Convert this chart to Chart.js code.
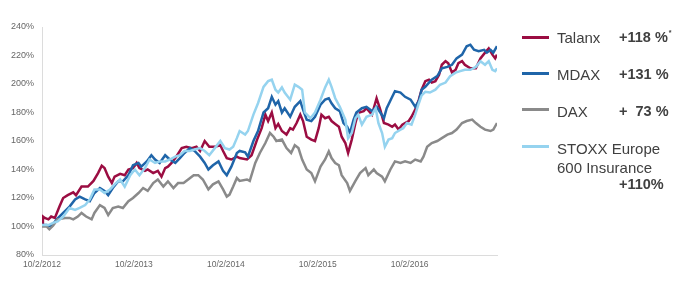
<!DOCTYPE html>
<html>
<head>
<meta charset="utf-8">
<script src="https://cdn.jsdelivr.net/npm/chart.js@4"></script>
<style>
  html, body { margin: 0; padding: 0; background: #fff; }
  #wrap { position: relative; width: 700px; height: 281px; font-family: 'Liberation Sans', Arial, sans-serif; }
  #chart { position: absolute; left: 0; top: 0; }
  .key { position: absolute; left: 522px; width: 27px; height: 3px; }
  .lbl { position: absolute; left: 557px; font-size: 15px; color: #404040; line-height: 19px; }
  .val { position: absolute; left: 619px; font-size: 14.5px; font-weight: bold; color: #404040; line-height: 19px; white-space: pre; }
  .val sup { font-size: 7px; line-height: 0; vertical-align: baseline; position: relative; top: -7px; margin-left: 1px; }
</style>
</head>
<body>
<div id="wrap">
  <canvas id="chart" width="700" height="281"></canvas>
  <div class="key" style="top:36px;background:#9b0d42"></div>
  <div class="lbl" style="top:28px">Talanx</div>
  <div class="val" style="top:28px">+118 %<sup>*</sup></div>
  <div class="key" style="top:72px;background:#1f65a9"></div>
  <div class="lbl" style="top:65px">MDAX</div>
  <div class="val" style="top:65px">+131 %</div>
  <div class="key" style="top:108px;background:#8a8a8a"></div>
  <div class="lbl" style="top:102px">DAX</div>
  <div class="val" style="top:102px">+  73 %</div>
  <div class="key" style="top:145px;background:#95d3ef"></div>
  <div class="lbl" style="top:139px">STOXX Europe<br>600 Insurance</div>
  <div class="val" style="top:175px">+110%</div>
</div>
<script>
// x = years since 10/2/2012, y = indexed performance in %
const xTickLabels = ['10/2/2012', '10/2/2013', '10/2/2014', '10/2/2015', '10/2/2016'];
const yTicks = [80, 100, 120, 140, 160, 180, 200, 220, 240];

const talanx = [
  [0.00,102],[0.01,107],[0.03,106],[0.07,105],[0.10,107],[0.14,106],[0.19,114],[0.23,120],[0.28,122],[0.34,124],
  [0.37,122],[0.43,128],[0.50,128],[0.56,132],[0.61,137.5],[0.65,142.7],[0.68,141],[0.72,135],[0.76,130.5],[0.79,135],
  [0.85,137],[0.90,136],[0.94,140],[0.99,141],[1.03,144.6],[1.06,141],[1.12,139],[1.15,140],[1.21,137.5],[1.26,139],
  [1.30,135],[1.34,141],[1.37,142],[1.41,144.6],[1.46,149],[1.52,155],[1.57,156],[1.63,155],[1.68,156],[1.72,153],
  [1.77,160],[1.82,156],[1.88,156],[1.94,157],[1.97,153],[2.01,148],[2.06,147],[2.12,149],
  [2.15,148],[2.23,147],[2.28,150],[2.34,161],[2.39,169],[2.43,178.5],[2.46,174],[2.50,180],[2.54,169],[2.57,172],
  [2.61,167],[2.66,164.5],[2.70,169],[2.73,168],[2.77,172.6],[2.81,178.5],[2.84,174],[2.88,163],[2.93,161],[2.97,160],
  [3.01,169],[3.04,178.5],[3.08,176],[3.12,177],[3.15,174],[3.19,172],[3.23,170],[3.26,163],[3.30,158.6],[3.33,151.6],
  [3.37,161],[3.41,172.6],[3.44,179.7],[3.50,181],[3.53,183],[3.59,178.5],[3.64,190],[3.68,182],[3.72,172.6],[3.77,171.5],
  [3.81,170],[3.84,171.5],[3.88,168],[3.92,171.5],[3.95,172.6],[3.99,174],[4.02,177],[4.06,182],[4.10,189],[4.13,196],
  [4.17,202],[4.21,203],[4.24,201],[4.28,202],[4.32,206.5],[4.35,213.5],[4.39,216],[4.42,214.6],[4.46,208],[4.50,210],
  [4.53,214.6],[4.57,216],[4.60,213.5],[4.66,211],[4.72,211],[4.77,218],[4.82,222],[4.86,225],[4.90,220.6],[4.93,218],[4.95,220.6]
];

const mdax = [
  [0.00,101],[0.05,101],[0.10,100],[0.16,105],[0.23,109.5],[0.30,114],[0.36,119],[0.41,121],[0.47,119],[0.52,117.7],
  [0.57,123.5],[0.63,127],[0.68,125],[0.72,122],[0.77,127],[0.83,131.7],[0.88,131.7],[0.94,136],[0.99,143],[1.05,144.6],
  [1.08,142],[1.14,145.7],[1.19,150],[1.23,147],[1.28,144.6],[1.34,150],[1.39,147],[1.45,144.6],[1.50,148],[1.55,151.6],
  [1.61,155],[1.66,153],[1.72,149],[1.77,144.6],[1.81,140],[1.86,143],[1.92,145.7],[1.97,139],[2.01,136],[2.06,142],[2.12,151.6],
  [2.15,153],[2.21,152],[2.24,149],[2.30,160],[2.35,167],[2.41,180],[2.46,183],[2.50,191],[2.54,185.5],[2.57,188],
  [2.61,180],[2.64,183],[2.70,177],[2.75,184],[2.81,188],[2.84,182],[2.88,175],[2.93,174],[2.97,177],[3.03,185.5],
  [3.08,189],[3.12,190],[3.15,186.5],[3.19,183],[3.24,181],[3.28,172.6],[3.32,170],[3.35,165.6],[3.39,175],[3.42,180],
  [3.48,183],[3.53,184],[3.59,181],[3.64,184],[3.68,180],[3.72,176],[3.75,183],[3.81,191],[3.84,195],[3.90,194],
  [3.95,191],[4.01,189],[4.06,184],[4.10,188],[4.13,196],[4.17,198],[4.21,201],[4.24,203],[4.30,205.5],[4.35,211],
  [4.41,212],[4.46,213.5],[4.51,218],[4.57,220.6],[4.62,226.5],[4.66,227.6],[4.70,224],[4.75,223],[4.81,224],[4.84,222],
  [4.88,224],[4.91,222],[4.95,226.5]
];

const dax = [
  [0.00,100],[0.05,100],[0.08,98],[0.12,100.5],[0.17,105],[0.25,106],[0.30,106],[0.34,105],[0.39,107],[0.43,109.5],
  [0.48,107],[0.54,105],[0.57,109.5],[0.63,115],[0.68,113],[0.72,108],[0.77,113],[0.83,114],[0.88,113],[0.94,117.7],
  [0.99,120],[1.05,123.5],[1.10,127],[1.15,125],[1.21,130.5],[1.26,133],[1.32,128],[1.37,131.7],[1.43,127],[1.48,130.5],
  [1.54,130.5],[1.59,133],[1.65,136],[1.70,136],[1.75,133],[1.81,126],[1.86,129.6],[1.92,131.7],[1.97,126],[2.01,121],
  [2.04,122.4],[2.08,128],[2.12,134],
  [2.15,132],[2.23,133],[2.26,132],[2.32,144.6],[2.37,151.6],[2.43,158.6],[2.48,165.6],[2.52,163],[2.55,160],[2.61,161],
  [2.66,155],[2.71,151.6],[2.75,157],[2.79,155],[2.83,147],[2.88,140],[2.93,137.5],[2.97,131.7],[3.03,142],[3.08,147],
  [3.12,152.7],[3.15,148],[3.19,144.6],[3.23,143],[3.26,136],[3.32,130.5],[3.35,125],[3.41,132],[3.46,137.5],[3.52,141],
  [3.55,136],[3.61,140],[3.64,137.5],[3.70,135],[3.73,131.7],[3.79,140],[3.84,145.7],[3.90,144.6],[3.95,145.7],[4.01,144.6],
  [4.06,147],[4.12,145.7],[4.15,149],[4.19,156],[4.24,158.6],[4.30,160],[4.35,162],[4.41,164.5],[4.46,165.6],[4.51,168],
  [4.57,172.6],[4.62,174],[4.68,175],[4.72,172.6],[4.77,170],[4.82,168],[4.88,167],[4.91,168],[4.95,172.6]
];

const stoxx = [
  [0.00,101],[0.07,101],[0.12,102.5],[0.17,103.6],[0.23,107],[0.30,113],[0.36,111.6],[0.41,113],[0.47,115],[0.52,119],
  [0.57,126],[0.63,126],[0.68,123.5],[0.74,126],[0.79,129.6],[0.85,133],[0.90,128],[0.96,136],[1.01,140],[1.06,136],
  [1.12,141],[1.17,147],[1.23,144.6],[1.28,145.7],[1.34,145.7],[1.39,147],[1.45,149],[1.50,150],[1.55,153],[1.61,153],
  [1.66,154],[1.72,155],[1.77,153],[1.82,150],[1.88,155],[1.94,160],[1.99,155],[2.04,154],[2.08,156],[2.12,162],
  [2.15,167],[2.21,164.5],[2.24,167],[2.30,178.5],[2.35,186.5],[2.41,198],[2.46,202],[2.50,203],[2.54,196],[2.57,194],
  [2.61,197.6],[2.64,194],[2.70,189],[2.75,199.5],[2.79,198],[2.83,196],[2.86,180],[2.92,176],[2.97,180],[3.03,189],
  [3.08,197.6],[3.12,203],[3.15,198],[3.19,190],[3.24,184],[3.30,175],[3.33,162],[3.37,165.6],[3.41,176],[3.44,178.5],
  [3.48,171.5],[3.53,177],[3.59,178.5],[3.63,183],[3.66,172.6],[3.70,165.6],[3.73,156],[3.77,161],[3.81,162],[3.84,165.6],
  [3.90,168],[3.93,169],[3.97,172.6],[4.02,171.5],[4.06,178.5],[4.10,186.5],[4.13,192],[4.17,194.5],[4.22,194],[4.28,196],
  [4.33,199.5],[4.39,201],[4.44,205.5],[4.50,208],[4.55,209],[4.60,210],[4.66,210],[4.72,212],[4.77,216],[4.82,213.5],
  [4.86,216],[4.90,210],[4.93,209],[4.95,211]
];

const toPoints = arr => arr.map(p => ({ x: p[0], y: p[1] }));

function line(label, arr, color) {
  return {
    label: label,
    data: toPoints(arr),
    borderColor: color,
    borderWidth: 2.5,
    pointRadius: 0,
    tension: 0,
    fill: false
  };
}

new Chart(document.getElementById('chart'), {
  type: 'line',
  data: {
    datasets: [
      line('STOXX Europe 600 Insurance', stoxx, '#95d3ef'),
      line('DAX', dax, '#8a8a8a'),
      line('MDAX', mdax, '#1f65a9'),
      line('Talanx', talanx, '#9b0d42')
    ]
  },
  options: {
    responsive: false,
    animation: false,
    layout: { padding: { top: 27, right: 203, left: 0, bottom: 0 } },
    plugins: { legend: { display: false }, tooltip: { enabled: false } },
    scales: {
      x: {
        type: 'linear',
        min: 0,
        max: 4.95,
        afterBuildTicks: s => { s.ticks = xTickLabels.map((_, i) => ({ value: i })); },
        afterFit: s => { s.height = 26; },
        grid: { display: false, drawTicks: false },
        border: { display: true, color: '#dcdcdc', width: 1 },
        ticks: {
          autoSkip: false,
          maxRotation: 0,
          padding: 5,
          color: '#666',
          font: { family: "'Liberation Sans', Arial, sans-serif", size: 8.5 },
          callback: v => xTickLabels[v]
        }
      },
      y: {
        min: 80,
        max: 240,
        afterBuildTicks: s => { s.ticks = yTicks.map(v => ({ value: v })); },
        afterFit: s => { s.width = 42; },
        grid: { display: false, drawTicks: false },
        border: { display: true, color: '#dcdcdc', width: 1 },
        ticks: {
          padding: 8,
          color: '#666',
          font: { family: "'Liberation Sans', Arial, sans-serif", size: 9 },
          callback: v => v + '%'
        }
      }
    }
  }
});
</script>
</body>
</html>
